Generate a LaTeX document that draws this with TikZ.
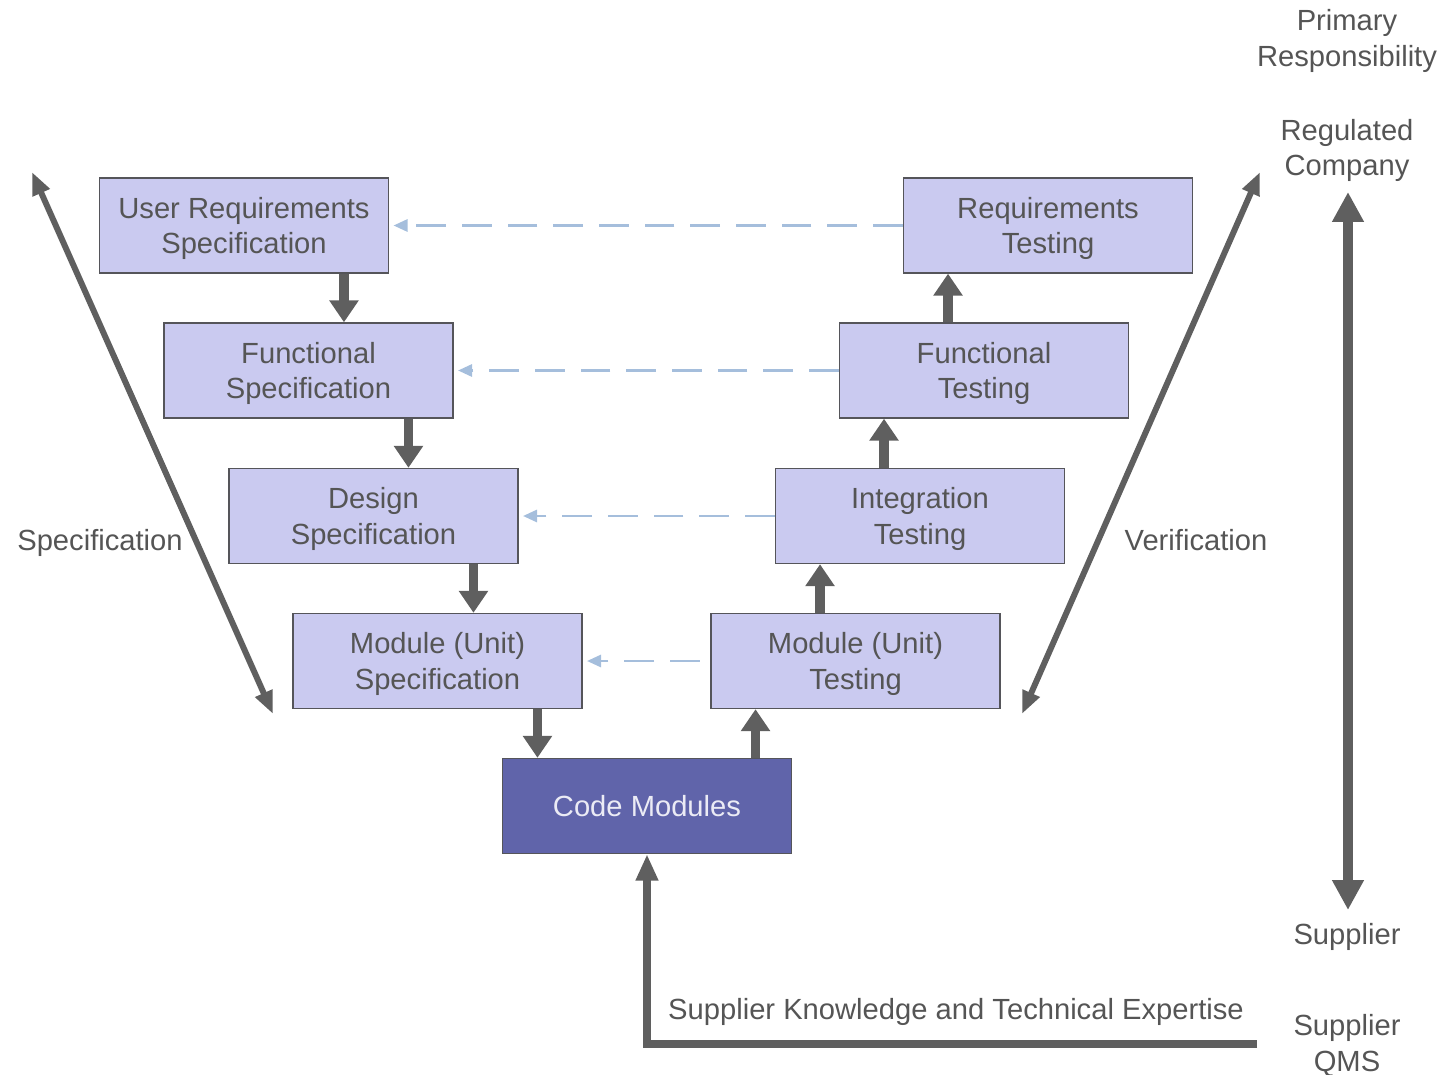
\documentclass[tikz,border=0pt]{standalone}
\usepackage{fontspec}
\setmainfont{Liberation Sans}
\usetikzlibrary{arrows.meta}
\definecolor{boxfill}{RGB}{202,202,240}
\definecolor{codefill}{RGB}{96,100,170}
\definecolor{boxline}{RGB}{85,85,90}
\definecolor{txt}{RGB}{85,85,85}
\definecolor{arr}{RGB}{95,95,95}
\definecolor{dashcol}{RGB}{165,190,220}
\begin{document}
\begin{tikzpicture}[x=0.02cm,y=-0.02cm,
  every node/.style={font=\fontsize{16.6}{20.4}\selectfont, text=txt, align=center, text depth=0pt},
  vbox/.style={draw=boxline, line width=0.8pt, fill=boxfill, minimum width=5.78cm, minimum height=1.9cm, inner sep=0pt},
  codebox/.style={vbox, fill=codefill, text={rgb,255:red,235;green,235;blue,245}},
  bigarrow/.style={draw=arr, line width=5.6pt, -{Triangle[length=12.5pt,width=16pt]}},
  diagarrow/.style={draw=arr, line width=3.4pt, {Triangle[length=13pt,width=10pt]}-{Triangle[length=13pt,width=10pt]}},
  vertarrow/.style={draw=arr, line width=5.6pt, {Triangle[length=17pt,width=17pt]}-{Triangle[length=17pt,width=17pt]}},
  qmsarrow/.style={draw=arr, line width=5pt, -{Triangle[length=15pt,width=12pt]}},
  dasharrow/.style={draw=dashcol, line width=1.3pt, dash pattern=on 17pt off 9pt, -{Triangle[length=8pt,width=7pt]}, shorten >=2.5pt}
]
\useasboundingbox (0,0) rectangle (1445,1075);

% boxes
\node[vbox] (urs) at (244,225.5) {User Requirements\\Specification};
\node[vbox] (fs) at (308.5,370.5) {Functional\\Specification};
\node[vbox] (ds) at (373.5,516) {Design\\Specification};
\node[vbox] (ms) at (437.5,661) {Module (Unit)\\Specification};
\node[vbox] (rt) at (1048,225.5) {Requirements\\Testing};
\node[vbox] (ft) at (984,370.5) {Functional\\Testing};
\node[vbox] (it) at (920,516) {Integration\\Testing};
\node[vbox] (mt) at (855.5,661) {Module (Unit)\\Testing};
\node[codebox] (code) at (647,806) {Code Modules};

% thick flow arrows
\draw[bigarrow] ([xshift=2cm]urs.south) -- ([xshift=2cm]urs.south |- fs.north);
\draw[bigarrow] ([xshift=2cm]fs.south) -- ([xshift=2cm]fs.south |- ds.north);
\draw[bigarrow] ([xshift=2cm]ds.south) -- ([xshift=2cm]ds.south |- ms.north);
\draw[bigarrow] ([xshift=2cm]ms.south) -- ([xshift=2cm]ms.south |- code.north);
\draw[bigarrow] ([xshift=-2cm]mt.south |- code.north) -- ([xshift=-2cm]mt.south);
\draw[bigarrow] ([xshift=-2cm]it.south |- mt.north) -- ([xshift=-2cm]it.south);
\draw[bigarrow] ([xshift=-2cm]ft.south |- it.north) -- ([xshift=-2cm]ft.south);
\draw[bigarrow] ([xshift=-2cm]rt.south |- ft.north) -- ([xshift=-2cm]rt.south);

% dashed verification links
\draw[dasharrow] (rt.west) -- (urs.east);
\draw[dasharrow] (ft.west) -- (fs.east);
\draw[dasharrow] (it.west) -- (ds.east);
\draw[dasharrow, shorten <=6pt] (mt.west) -- (ms.east);

% diagonal arrows
\coordinate (sptop) at (32,172);
\coordinate (spbot) at (273,714);
\coordinate (vebot) at (1022,714);
\coordinate (vetop) at (1260,172);
\draw[diagarrow] (sptop) -- (spbot);
\draw[diagarrow] (vebot) -- (vetop);
\node (speclbl) at (100,540) {Specification};
\node (verlbl) at (1196,540) {Verification};

% responsibility axis
\node (primary) at (1347,38) {Primary\\Responsibility};
\node (regco) at (1347,147.5) {Regulated\\Company};
\node (supp) at (1347,934) {Supplier};
\node (qms) at (1347,1043) {Supplier\\QMS};
\coordinate (axtop) at (1348,192);
\coordinate (axbot) at (1348,910);
\draw[vertarrow] (axbot) -- (axtop);

% supplier knowledge arrow
\coordinate (qmsend) at (1257,1044);
\draw[qmsarrow] (qmsend) -| (code.south);
\node (know) at (956,1009) {Supplier Knowledge and Technical Expertise};
\end{tikzpicture}
\end{document}
